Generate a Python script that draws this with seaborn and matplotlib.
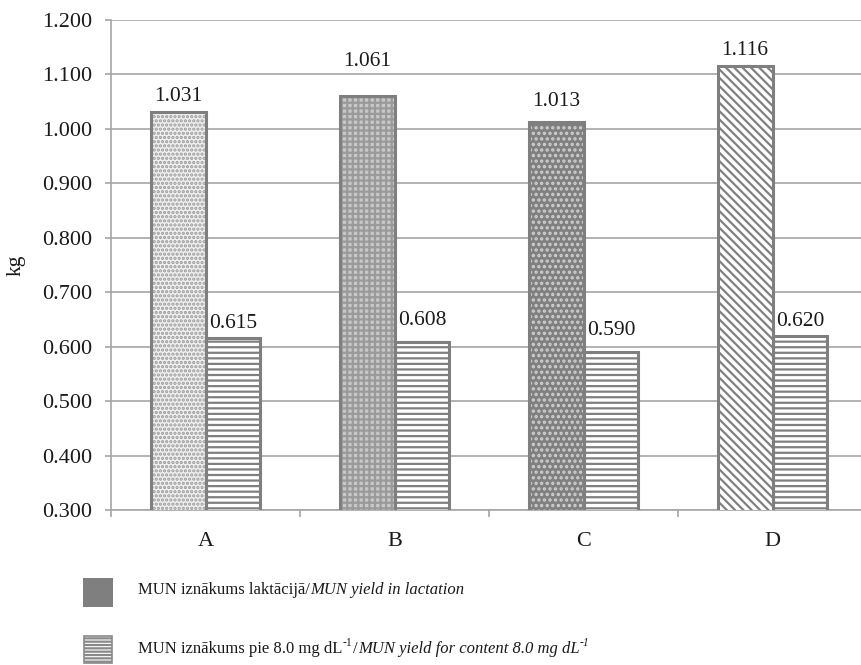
import numpy as np
import pandas as pd
import matplotlib
matplotlib.use("Agg")
import matplotlib.pyplot as plt
import seaborn as sns
from matplotlib.patches import Rectangle
from matplotlib.ticker import FormatStrFormatter, FixedLocator

# ---- data ----
categories = ["A", "B", "C", "D"]
yield_lactation = [1.031, 1.061, 1.013, 1.116]
yield_content = [0.615, 0.608, 0.590, 0.620]
series_names = ["lactation", "content"]
y_ticks = [0.3, 0.4, 0.5, 0.6, 0.7, 0.8, 0.9, 1.0, 1.1, 1.2]
# legend text pieces: (text, italic, superscript)
legend_line1 = [("MUN iznākums laktācijā/", False, False),
                ("MUN yield in lactation", True, False)]
legend_line2 = [("MUN iznākums pie 8.0 mg dL", False, False),
                ("-1", False, True),
                ("/", False, False),
                ("MUN yield for content 8.0 mg dL", True, False),
                ("-1", True, True)]

# ---- style ----
sns.set_theme(style="white")
plt.rcParams["font.family"] = ["Liberation Serif", "DejaVu Serif"]
plt.rcParams["hatch.linewidth"] = 1.6

FS_TICK = 16
FS_VAL = 15.5
FS_LEG = 12
EDGE = "#7f7f7f"
GRID = "#a6a6a6"
TXT = "#1a1a1a"
BS = chr(92)

df = pd.DataFrame({
    "cat": categories * 2,
    "series": [series_names[0]] * 4 + [series_names[1]] * 4,
    "kg": yield_lactation + yield_content,
})

fig = plt.figure(figsize=(8.61, 6.65), dpi=100)
ax = fig.add_axes([111 / 861, 155 / 665, 756 / 861, 490 / 665])

sns.barplot(data=df, x="cat", y="kg", hue="series", order=categories,
            hue_order=series_names, width=0.58, palette=["#ffffff", "#ffffff"],
            legend=False, ax=ax, zorder=3)

s1_styles = [
    ("#f0f0f0", "#9a9a9a", "...."),
    ("#c8c8c8", "#9a9a9a", "+++"),
    ("#808080", "#d0d0d0", "..."),
    ("#ffffff", "#808080", BS * 4),
]
s2_style = ("#ffffff", "#808080", "---")

for i, bar in enumerate(ax.containers[0].patches):
    fc, hc, h = s1_styles[i]
    bar.set_facecolor(fc); bar.set_edgecolor(hc); bar.set_hatch(h); bar.set_linewidth(0)
for bar in ax.containers[1].patches:
    fc, hc, h = s2_style
    bar.set_facecolor(fc); bar.set_edgecolor(hc); bar.set_hatch(h); bar.set_linewidth(0)

for cont in ax.containers:
    for bar in cont.patches:
        ax.add_patch(Rectangle(bar.get_xy(), bar.get_width(), bar.get_height(),
                               fill=False, edgecolor=EDGE, linewidth=2.2, zorder=4))

# value labels
pads1 = [4, 18, 8, 4]
pads2 = [4, 9, 9, 3.5]
for cont, vals, pads in [(ax.containers[0], yield_lactation, pads1),
                         (ax.containers[1], yield_content, pads2)]:
    for bar, v, p in zip(cont.patches, vals, pads):
        ax.annotate(f"{v:.3f}", (bar.get_x() + bar.get_width() / 2, bar.get_height()),
                    xytext=(0, p), textcoords="offset points", ha="center",
                    va="bottom", fontsize=FS_VAL, color=TXT, zorder=5)

# axes
ax.set_ylim(0.3, 1.2)
ax.set_xlim(-0.5, 3.5)
ax.set_yticks(y_ticks)
ax.yaxis.set_major_formatter(FormatStrFormatter("%.3f"))
ax.yaxis.grid(True, color=GRID, linewidth=1.2, zorder=0)
ax.set_axisbelow(True)
ax.set_xlabel("")
ax.set_ylabel("kg", fontsize=FS_VAL, labelpad=12, color=TXT)
for s in ["top", "right"]:
    ax.spines[s].set_visible(False)
for s in ["left", "bottom"]:
    ax.spines[s].set_color(GRID)
    ax.spines[s].set_linewidth(1.2)
ax.tick_params(axis="y", which="major", length=4.3, width=1.2, color=GRID,
               labelsize=FS_TICK, pad=9, left=True, labelcolor=TXT)
ax.tick_params(axis="x", which="major", length=0, labelsize=FS_TICK, pad=16,
               labelcolor=TXT)
ax.xaxis.set_minor_locator(FixedLocator([-0.5, 0.5, 1.5, 2.5, 3.5]))
ax.tick_params(axis="x", which="minor", length=5, width=1.2, color=GRID, bottom=True)

# ---- legend (manual, to allow mixed italic + superscripts) ----
W, H = 861, 665
fig.add_artist(Rectangle((83 / W, 1 - 607 / H), 30 / W, 29 / H,
                         transform=fig.transFigure, facecolor="#7f7f7f",
                         edgecolor="#7f7f7f", linewidth=0))
fig.add_artist(Rectangle((84 / W, 1 - 663 / H), 28 / W, 27 / H,
                         transform=fig.transFigure, facecolor="#ffffff",
                         edgecolor="#8a8a8a", hatch="-----", linewidth=1.2))


def rich_line(pieces, x_px, baseline_px):
    yb = 1 - baseline_px / H
    prev = None
    for text, italic, sup in pieces:
        kw = dict(fontsize=FS_LEG * (0.7 if sup else 1.0),
                  fontstyle="italic" if italic else "normal",
                  color=TXT, va="baseline", ha="left")
        dy = FS_LEG * 0.42 if sup else 0
        if prev is None:
            prev = fig.text(x_px / W, yb, text, **kw)
        else:
            prev = ax.annotate(text, xy=(1, yb), xycoords=(prev, "figure fraction"),
                               xytext=(0.3, dy), textcoords="offset points",
                               annotation_clip=False, **kw)


rich_line(legend_line1, 138, 594)
rich_line(legend_line2, 138, 653)

fig.savefig("out.png", dpi=100)
